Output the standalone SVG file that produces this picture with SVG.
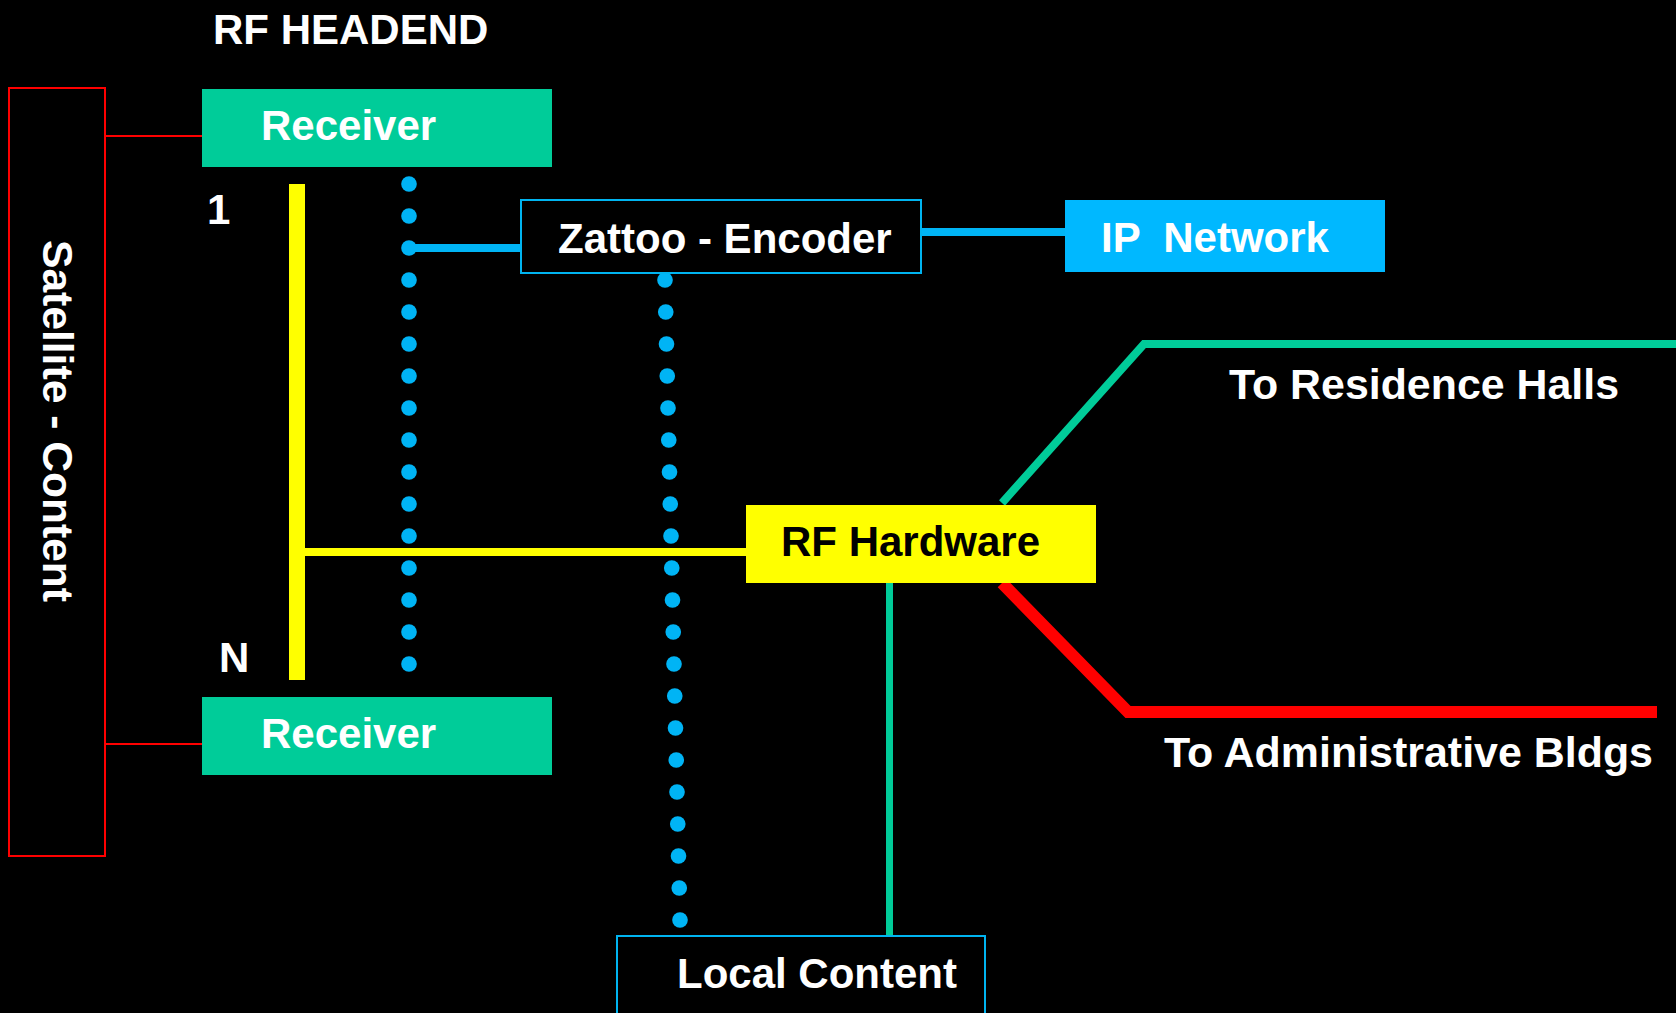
<svg xmlns="http://www.w3.org/2000/svg" width="1676" height="1013" viewBox="0 0 1676 1013">
<style>
text{font-family:"Liberation Sans",Arial,sans-serif;font-weight:bold;font-size:42px;fill:#FFFFFF}
.dot{fill:#00B4F5}
.rcv{fill:#00CC99}
.blue-box{fill:#000000;stroke:#00B4F0;stroke-width:2}
</style>
<rect x="0" y="0" width="1676" height="1013" fill="#000000"/>
<g id="connectors">
  <line x1="105" y1="136" x2="202" y2="136" stroke="#FF0000" stroke-width="2"/>
  <line x1="105" y1="744" x2="202" y2="744" stroke="#FF0000" stroke-width="2"/>
  <rect x="289" y="184" width="16" height="496" fill="#FFFF00"/>
  <rect x="305" y="548" width="441" height="8" fill="#FFFF00"/>
  <line x1="409" y1="248" x2="521" y2="248" stroke="#00B4F5" stroke-width="8"/>
  <line x1="921" y1="232" x2="1065" y2="232" stroke="#00B4F5" stroke-width="8"/>
  <rect x="886" y="583" width="7" height="353" fill="#00CC99"/>
  <polyline points="1002,503 1144,344 1676,344" fill="none" stroke="#00CC99" stroke-width="8"/>
  <polyline points="1002,583 1128,712 1657,712" fill="none" stroke="#FF0000" stroke-width="12"/>
  <g id="dots-col1">
    <circle class="dot" cx="409" cy="184" r="7.8"/>
    <circle class="dot" cx="409" cy="216" r="7.8"/>
    <circle class="dot" cx="409" cy="248" r="7.8"/>
    <circle class="dot" cx="409" cy="280" r="7.8"/>
    <circle class="dot" cx="409" cy="312" r="7.8"/>
    <circle class="dot" cx="409" cy="344" r="7.8"/>
    <circle class="dot" cx="409" cy="376" r="7.8"/>
    <circle class="dot" cx="409" cy="408" r="7.8"/>
    <circle class="dot" cx="409" cy="440" r="7.8"/>
    <circle class="dot" cx="409" cy="472" r="7.8"/>
    <circle class="dot" cx="409" cy="504" r="7.8"/>
    <circle class="dot" cx="409" cy="536" r="7.8"/>
    <circle class="dot" cx="409" cy="568" r="7.8"/>
    <circle class="dot" cx="409" cy="600" r="7.8"/>
    <circle class="dot" cx="409" cy="632" r="7.8"/>
    <circle class="dot" cx="409" cy="664" r="7.8"/>
  </g>
  <g id="dots-col2">
    <circle class="dot" cx="665" cy="280" r="7.8"/>
    <circle class="dot" cx="665.75" cy="312" r="7.8"/>
    <circle class="dot" cx="666.5" cy="344" r="7.8"/>
    <circle class="dot" cx="667.25" cy="376" r="7.8"/>
    <circle class="dot" cx="668" cy="408" r="7.8"/>
    <circle class="dot" cx="668.75" cy="440" r="7.8"/>
    <circle class="dot" cx="669.5" cy="472" r="7.8"/>
    <circle class="dot" cx="670.25" cy="504" r="7.8"/>
    <circle class="dot" cx="671" cy="536" r="7.8"/>
    <circle class="dot" cx="671.75" cy="568" r="7.8"/>
    <circle class="dot" cx="672.5" cy="600" r="7.8"/>
    <circle class="dot" cx="673.25" cy="632" r="7.8"/>
    <circle class="dot" cx="674" cy="664" r="7.8"/>
    <circle class="dot" cx="674.75" cy="696" r="7.8"/>
    <circle class="dot" cx="675.5" cy="728" r="7.8"/>
    <circle class="dot" cx="676.25" cy="760" r="7.8"/>
    <circle class="dot" cx="677" cy="792" r="7.8"/>
    <circle class="dot" cx="677.75" cy="824" r="7.8"/>
    <circle class="dot" cx="678.5" cy="856" r="7.8"/>
    <circle class="dot" cx="679.25" cy="888" r="7.8"/>
    <circle class="dot" cx="680" cy="920" r="7.8"/>
  </g>
</g>
<g id="title">
  <text x="213" y="44">RF HEADEND</text>
</g>
<g id="satellite">
  <rect x="9" y="88" width="96" height="768" fill="none" stroke="#FF0000" stroke-width="2"/>
  <text transform="translate(43,240) rotate(90)" textLength="362" lengthAdjust="spacingAndGlyphs">Satellite - Content</text>
</g>
<g id="receiver1">
  <rect class="rcv" x="202" y="89" width="350" height="78"/>
  <text x="261" y="140">Receiver</text>
</g>
<g id="label-1">
  <text x="207" y="224">1</text>
</g>
<g id="label-n">
  <text x="219" y="672">N</text>
</g>
<g id="receiver2">
  <rect class="rcv" x="202" y="697" width="350" height="78"/>
  <text x="261" y="748">Receiver</text>
</g>
<g id="encoder">
  <rect class="blue-box" x="521" y="200" width="400" height="73"/>
  <text x="558" y="253">Zattoo - Encoder</text>
</g>
<g id="ip-network">
  <rect x="1065" y="200" width="320" height="72" fill="#00B8FF"/>
  <text x="1101" y="252" xml:space="preserve">IP  Network</text>
</g>
<g id="rf-hardware">
  <rect x="746" y="505" width="350" height="78" fill="#FFFF00"/>
  <text x="781" y="556" style="fill:#000000">RF Hardware</text>
</g>
<g id="residence">
  <text x="1229" y="399" textLength="390" lengthAdjust="spacingAndGlyphs">To Residence Halls</text>
</g>
<g id="admin">
  <text x="1164" y="767" textLength="489" lengthAdjust="spacingAndGlyphs">To Administrative Bldgs</text>
</g>
<g id="local-content">
  <rect class="blue-box" x="617" y="936" width="368" height="90"/>
  <text x="677" y="988">Local Content</text>
</g>
</svg>
